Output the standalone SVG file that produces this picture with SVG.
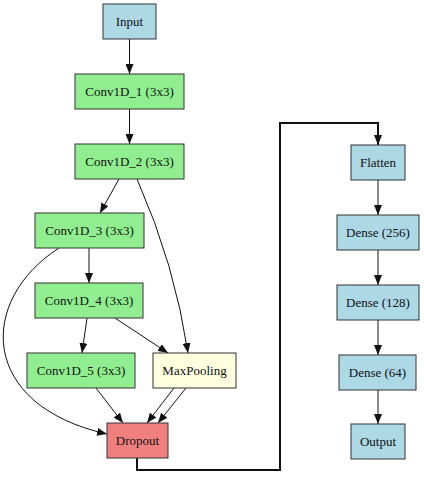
<svg xmlns="http://www.w3.org/2000/svg" width="424" height="480" viewBox="0 0 424 480">
<style>
.n rect{stroke:#333;stroke-width:1}
.n text{font-family:"Liberation Serif","Times New Roman",serif;font-size:13px;fill:#111;text-anchor:middle;dominant-baseline:central}
.blue rect{fill:#ADD8E6}
.green rect{fill:#90EE90}
.yellow rect{fill:#FFFFE0}
.red rect{fill:#F08080}
.e path{fill:none;stroke:#111;stroke-width:1;marker-end:url(#ah)}
.e path.thick{stroke-width:2}
</style>
<defs>
<marker id="ah" markerUnits="userSpaceOnUse" markerWidth="10" markerHeight="8" refX="10" refY="4" orient="auto">
<path d="M0,0 L10,4 L0,8 Z" fill="#111"/>
</marker>
</defs>
<rect width="424" height="480" fill="#fff"/>
<g class="e" id="connectors">
<path d="M129.5,39 L129.5,74"/>
<path d="M129.5,109 L129.5,144"/>
<path d="M119,179 L100,213"/>
<path d="M137,179 Q175,265 188,353"/>
<path d="M89,248 L89,283"/>
<path d="M59,248 C-22,300 -22,405 107,434"/>
<path d="M87,318 L82,353"/>
<path d="M115,318 L168,353"/>
<path d="M96,388 L123,423"/>
<path d="M174,388 L147,423"/>
<path d="M186,388 L158,423"/>
<path class="thick" d="M137,458 L137,470 L280,470 L280,123 L378,123 L378,145"/>
<path d="M378,180 L378,215"/>
<path d="M378,250 L378,285"/>
<path d="M378,320 L378,355"/>
<path d="M378,390 L378,424"/>
</g>
<g id="input" class="n blue"><rect x="103" y="4" width="53" height="35"/><text x="129.5" y="21.5">Input</text></g>
<g id="conv1" class="n green"><rect x="75" y="74" width="109" height="35"/><text x="129.5" y="91.5">Conv1D_1 (3x3)</text></g>
<g id="conv2" class="n green"><rect x="75" y="144" width="109" height="35"/><text x="129.5" y="161.5">Conv1D_2 (3x3)</text></g>
<g id="conv3" class="n green"><rect x="35" y="213" width="109" height="35"/><text x="89.5" y="230.5">Conv1D_3 (3x3)</text></g>
<g id="conv4" class="n green"><rect x="35" y="283" width="108" height="35"/><text x="89" y="300.5">Conv1D_4 (3x3)</text></g>
<g id="conv5" class="n green"><rect x="27" y="353" width="108" height="35"/><text x="81" y="370.5">Conv1D_5 (3x3)</text></g>
<g id="maxpool" class="n yellow"><rect x="153" y="353" width="83" height="35"/><text x="194.5" y="370.5">MaxPooling</text></g>
<g id="dropout" class="n red"><rect x="107" y="423" width="61" height="35"/><text x="137.5" y="440.5">Dropout</text></g>
<g id="flatten" class="n blue"><rect x="351" y="145" width="54" height="35"/><text x="378" y="162.5">Flatten</text></g>
<g id="dense256" class="n blue"><rect x="337" y="215" width="82" height="35"/><text x="378" y="232.5">Dense (256)</text></g>
<g id="dense128" class="n blue"><rect x="337" y="285" width="82" height="35"/><text x="378" y="302.5">Dense (128)</text></g>
<g id="dense64" class="n blue"><rect x="339" y="355" width="77" height="35"/><text x="377.5" y="372.5">Dense (64)</text></g>
<g id="output" class="n blue"><rect x="351" y="424" width="54" height="35"/><text x="378" y="441.5">Output</text></g>
</svg>
